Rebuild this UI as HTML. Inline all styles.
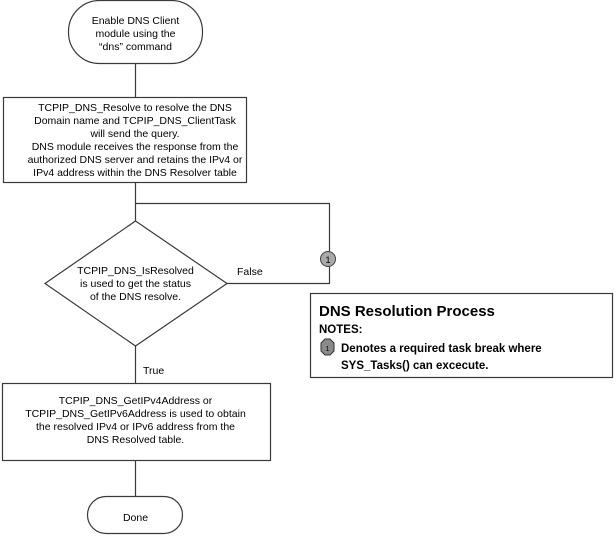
<!DOCTYPE html>
<html><head><style>body{margin:0;background:#fff}svg{display:block}</style></head><body>
<svg width="616" height="536" xmlns="http://www.w3.org/2000/svg" font-family="Liberation Sans, Arial, sans-serif" font-size="10.5" fill="#000">
<g stroke="#3a3a3a" stroke-width="1.2" fill="none">
<rect x="68.5" y="0.5" width="134" height="63" rx="31"/>
<line x1="135.5" y1="64" x2="135.5" y2="97"/>
<rect x="3.5" y="97.5" width="243" height="85" fill="#fff"/>
<line x1="135.5" y1="183" x2="135.5" y2="221"/>
<polyline points="135.5,203.5 329.5,203.5 329.5,252"/>
<polyline points="329.5,266 329.5,283.5 227,283.5"/>
<polygon points="135.5,221 227,283.5 135.5,346 45,283.5" fill="#fff"/>
<line x1="135.5" y1="346" x2="135.5" y2="383"/>
<rect x="2.5" y="383.5" width="268" height="77" fill="#fff"/>
<line x1="135.5" y1="461" x2="135.5" y2="496"/>
<rect x="87.5" y="496.5" width="95" height="37" rx="18.5"/>
<rect x="310.5" y="293.5" width="302" height="84"/>
</g>
<circle cx="328" cy="259" r="7.5" fill="#a9a9a9" stroke="#404040" stroke-width="1"/>
<text x="328" y="263" font-size="9" text-anchor="middle">1</text>
<polygon points="321,343 325,339 330,339 334,343 334,351 330,355 325,355 321,351" fill="#8a8a8a" stroke="#303030" stroke-width="1"/>
<text x="327.5" y="351" font-size="7" text-anchor="middle">1</text>
<g text-anchor="middle">
<text x="135.5" y="24">Enable DNS Client</text>
<text x="135.5" y="37">module using the</text>
<text x="135.5" y="50">“dns” command</text>
<text x="135" y="111">TCPIP_DNS_Resolve to resolve the DNS</text>
<text x="135" y="124">Domain name and TCPIP_DNS_ClientTask</text>
<text x="135" y="137">will send the query.</text>
<text x="135" y="150">DNS module receives the response from the</text>
<text x="135" y="163">authorized  DNS server and retains the IPv4 or</text>
<text x="135" y="176">IPv4 address within the DNS Resolver table</text>
<text x="135.5" y="274">TCPIP_DNS_IsResolved</text>
<text x="135.5" y="287">is used to get the status</text>
<text x="135.5" y="300">of the DNS resolve.</text>
<text x="135.5" y="404">TCPIP_DNS_GetIPv4Address or</text>
<text x="135.5" y="417">TCPIP_DNS_GetIPv6Address is used to obtain</text>
<text x="135.5" y="430">the resolved IPv4 or IPv6 address from the</text>
<text x="135.5" y="443">DNS Resolved table.</text>
<text x="135.5" y="521">Done</text>
</g>
<text x="237" y="275">False</text>
<text x="143" y="374">True</text>
<text x="319" y="316" font-size="15" font-weight="bold">DNS Resolution Process</text>
<text x="319" y="333" font-size="11.5" font-weight="bold">NOTES:</text>
<text x="341" y="352" font-size="11.5" font-weight="bold">Denotes a required task break where</text>
<text x="341" y="369" font-size="11.5" font-weight="bold">SYS_Tasks() can excecute.</text>
</svg>
</body></html>
